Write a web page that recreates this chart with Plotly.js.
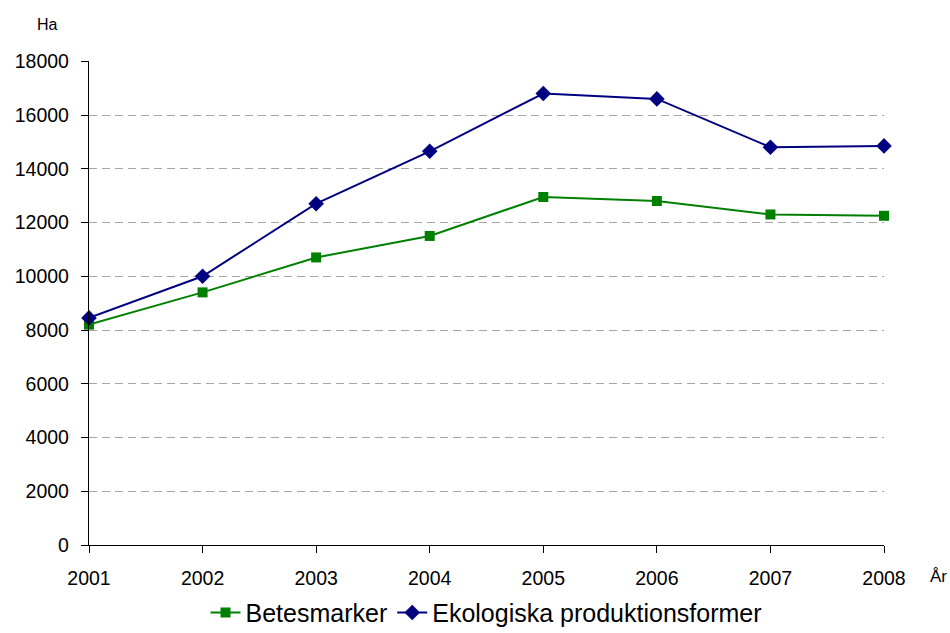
<!DOCTYPE html>
<html>
<head>
<meta charset="utf-8">
<script src="https://cdn.plot.ly/plotly-3.0.1.min.js"></script>
<style>html,body{margin:0;padding:0;background:#fff;}#chart{width:950px;height:633px;}</style>
</head>
<body>
<div id="chart"></div>
<script>
const years = ['2001','2002','2003','2004','2005','2006','2007','2008'];
const betesmarker = [8200, 9400, 10700, 11500, 12950, 12800, 12300, 12250];
const ekologiska = [8450, 10000, 12700, 14650, 16800, 16600, 14800, 14850];
const yTicks = [0,2000,4000,6000,8000,10000,12000,14000,16000,18000];
const yTickText = yTicks.map(String);

const traces = [
  {x: years, y: betesmarker, name: 'Betesmarker', type: 'scatter', mode: 'lines+markers', cliponaxis: false,
   line: {color: '#008000', width: 2}, marker: {symbol: 'square', size: 10, color: '#008000'}},
  {x: years, y: ekologiska, name: 'Ekologiska produktionsformer', type: 'scatter', mode: 'lines+markers', cliponaxis: false,
   line: {color: '#000080', width: 2}, marker: {symbol: 'diamond', size: 12, color: '#000080'}}
];

const layout = {
  width: 950, height: 633,
  margin: {l: 89, r: 66, t: 61, b: 88, autoexpand: false},
  paper_bgcolor: '#fff', plot_bgcolor: '#fff',
  font: {family: 'Liberation Sans, Arial, sans-serif', color: '#000', size: 19},
  xaxis: {type: 'category', range: [0, 7], showline: true, linecolor: '#000', linewidth: 1.3,
    ticks: 'outside', ticklen: 7, tickcolor: '#000', showgrid: false, zeroline: false,
    tickfont: {size: 19.5}, ticklabelstandoff: 8, automargin: false},
  yaxis: {range: [0, 18010], tickvals: yTicks, ticktext: yTickText, showline: true, linecolor: '#000', linewidth: 1.3,
    ticks: 'outside', ticklen: 7, tickcolor: '#000', showgrid: true, gridcolor: '#a6a6a6',
    griddash: '8px,5px', gridwidth: 1, zeroline: false, tickfont: {size: 19.5}, ticklabelstandoff: 8,
    automargin: false},
  showlegend: true,
  legend: {orientation: 'h', x: 0.5, xanchor: 'center', yref: 'container', y: 0.032, yanchor: 'middle',
    font: {size: 25}, itemwidth: 30, tracegroupgap: 0},
  annotations: [
    {text: 'Ha', xref: 'paper', yref: 'paper', x: -0.0516, y: 1.0764, xanchor: 'center', yanchor: 'middle',
     showarrow: false, font: {size: 16}},
    {text: 'År', xref: 'paper', yref: 'paper', x: 1.0553, y: -0.066, xanchor: 'left', yanchor: 'middle',
     showarrow: false, font: {size: 17}}
  ]
};
Plotly.newPlot('chart', traces, layout, {displayModeBar: false});
</script>
</body>
</html>
